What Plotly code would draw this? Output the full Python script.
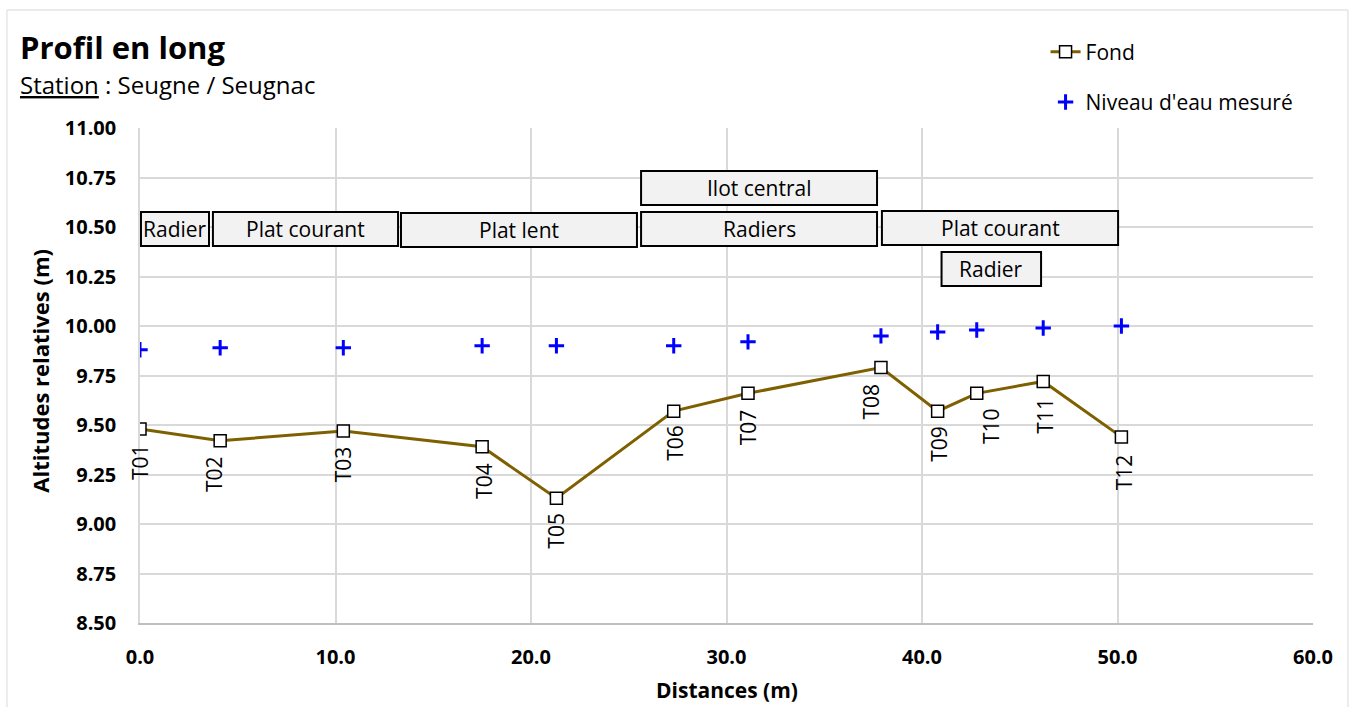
import plotly.graph_objects as go

# ---- data ----
profile_labels = ["T01", "T02", "T03", "T04", "T05", "T06", "T07", "T08", "T09", "T10", "T11", "T12"]
distances = [0.0, 4.1, 10.4, 17.5, 21.3, 27.3, 31.1, 37.9, 40.8, 42.8, 46.2, 50.2]
fond = [9.48, 9.42, 9.47, 9.39, 9.13, 9.57, 9.66, 9.79, 9.57, 9.66, 9.72, 9.44]
niveau_eau = [9.88, 9.89, 9.89, 9.90, 9.90, 9.90, 9.92, 9.95, 9.97, 9.98, 9.99, 10.00]

zone_names = ["Radier", "Plat courant", "Plat lent", "Radiers", "Ilot central", "Plat courant", "Radier"]
zone_x0 = [0.05, 3.73, 13.35, 25.63, 25.63, 37.95, 41.0]
zone_x1 = [3.53, 13.2, 25.42, 37.7, 37.7, 50.03, 46.09]
zone_y0 = [10.404, 10.404, 10.399, 10.404, 10.611, 10.409, 10.202]
zone_y1 = [10.576, 10.576, 10.571, 10.576, 10.783, 10.581, 10.374]

x_ticks = [0, 10, 20, 30, 40, 50, 60]
y_ticks = [8.50, 8.75, 9.00, 9.25, 9.50, 9.75, 10.00, 10.25, 10.50, 10.75, 11.00]

# ---- style (label offsets in pixels) ----
label_xshift = [0, -6, 0, 2, 0, 1, 0, -10, 1, 15, 2, 2]
label_yshift = [-13, -13, -13, -14, -12, -12, -14, -14, -13, -13, -14, -15]

FONT = "Open Sans"
fig = go.Figure()

fig.add_trace(go.Scatter(
    x=distances, y=fond, mode="lines+markers", name="Fond", legendgroup="a",
    line=dict(color="#7f6000", width=3),
    marker=dict(symbol="square", size=12, color="white", line=dict(color="black", width=1.5)),
))
fig.add_trace(go.Scatter(
    x=distances, y=niveau_eau, mode="markers", name="Niveau d'eau mesuré", legendgroup="b",
    marker=dict(symbol="cross-thin", size=11, line=dict(color="#0000ff", width=3)),
))

annotations = []
for lbl, xv, yv, dx, dy in zip(profile_labels, distances, fond, label_xshift, label_yshift):
    annotations.append(dict(
        x=xv, y=yv, xref="x", yref="y", text=lbl, showarrow=False, textangle=-90,
        xanchor="center", yanchor="top", xshift=dx, yshift=dy,
        font=dict(family=FONT, size=21, color="black"),
    ))

shapes = []
for name, x0, x1, y0, y1 in zip(zone_names, zone_x0, zone_x1, zone_y0, zone_y1):
    shapes.append(dict(type="rect", xref="x", yref="y", x0=x0, x1=x1, y0=y0, y1=y1,
                       fillcolor="#f2f2f2", line=dict(color="black", width=2), layer="above"))
    annotations.append(dict(x=(x0 + x1) / 2, y=(y0 + y1) / 2, xref="x", yref="y", text=name,
                            showarrow=False, font=dict(family=FONT, size=21, color="black")))

# outer chart frame
shapes.append(dict(type="rect", xref="paper", yref="paper", x0=-0.1134, x1=1.0298, y0=-0.2, y1=1.2384,
                   line=dict(color="#d9d9d9", width=1), fillcolor="rgba(0,0,0,0)", layer="below"))

annotations += [
    dict(xref="paper", yref="paper", x=-0.1042, y=1.163, xanchor="left", yanchor="middle",
         text="<b>Profil en long</b>", showarrow=False, font=dict(family=FONT, size=31, color="black")),
    dict(xref="paper", yref="paper", x=-0.1042, y=1.087, xanchor="left", yanchor="middle",
         text="<span style='text-decoration:underline'>Station</span> : Seugne / Seugnac",
         showarrow=False, font=dict(family=FONT, size=24, color="black")),
    dict(xref="paper", yref="paper", x=0.5, y=-0.135, xanchor="center", yanchor="middle",
         text="<b>Distances (m)</b>", showarrow=False, font=dict(family=FONT, size=21, color="black")),
    dict(xref="paper", yref="paper", x=-0.086, y=0.51, xanchor="center", yanchor="middle", textangle=-90,
         text="<b>Altitudes relatives (m)</b>", showarrow=False, font=dict(family=FONT, size=22, color="black")),
]

fig.update_layout(
    width=1352, height=707,
    margin=dict(l=140, r=39, t=128, b=84),
    paper_bgcolor="white", plot_bgcolor="white",
    font=dict(family=FONT, color="black"),
    showlegend=True,
    legend=dict(x=0.772, y=1.195, xanchor="left", yanchor="top", bgcolor="rgba(0,0,0,0)",
                font=dict(family=FONT, size=21, color="black"), tracegroupgap=20,
                traceorder="grouped"),
    annotations=annotations, shapes=shapes,
    xaxis=dict(range=[0, 60], tickvals=x_ticks, tickformat=".1f", showgrid=True, gridcolor="#d9d9d9",
               gridwidth=1.5, zeroline=False, showline=True, linecolor="#bfbfbf", linewidth=1.5,
               ticks="outside", ticklen=15, tickcolor="rgba(0,0,0,0)",
               tickfont=dict(family=FONT, size=20, color="black", weight="bold")),
    yaxis=dict(range=[8.5, 11.0], tickvals=y_ticks, tickformat=".2f", showgrid=True, gridcolor="#d9d9d9",
               gridwidth=1.5, zeroline=False, showline=True, linecolor="#d9d9d9", linewidth=1.5,
               ticks="outside", ticklen=18, tickcolor="rgba(0,0,0,0)",
               tickfont=dict(family=FONT, size=20, color="black", weight="bold")),
)

fig.write_html("out.html")
